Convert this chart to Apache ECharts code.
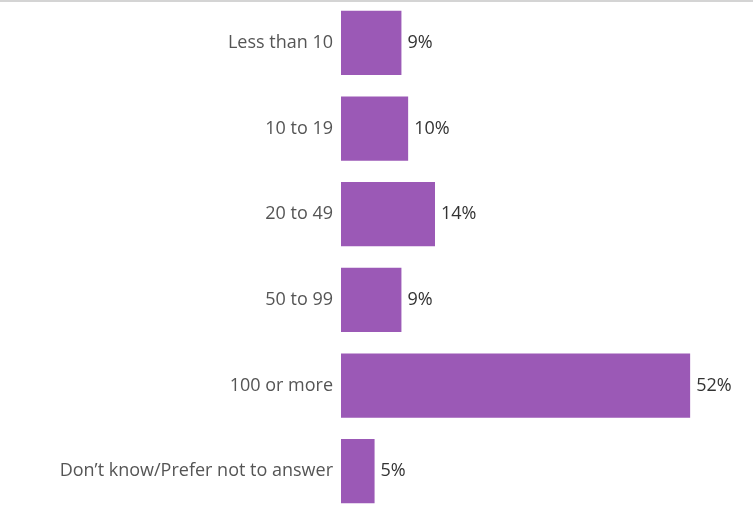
<!DOCTYPE html>
<html>
<head>
<meta charset="utf-8">
<script src="https://cdn.jsdelivr.net/npm/echarts@6/dist/echarts.min.js"></script>
<style>
  html, body { margin: 0; padding: 0; background: #fff; overflow: hidden; width: 753px; height: 507px; }
  #topline { position: absolute; left: 0; top: 0; width: 753px; height: 2px; background: #d4d4d4; z-index: 2; }
  #chart { width: 753px; height: 520px; }
</style>
</head>
<body>
<div id="topline"></div>
<div id="chart"></div>
<script>
// Share of responses by size band
const categories = [
  'Less than 10',
  '10 to 19',
  '20 to 49',
  '50 to 99',
  '100 or more',
  'Don\u2019t know/Prefer not to answer'
];
const shares = [9, 10, 14, 9, 52, 5];

const chart = echarts.init(document.getElementById('chart'), null, { renderer: 'canvas' });
chart.setOption({
  animation: false,
  grid: { left: 341, top: 0, width: 376, height: 514, containLabel: false },
  xAxis: {
    type: 'value', min: 0, max: 56,
    show: false
  },
  yAxis: {
    type: 'category',
    data: categories,
    inverse: true,
    axisLine: { show: false },
    axisTick: { show: false },
    axisLabel: {
      margin: 8,
      color: '#555555',
      fontFamily: 'Open Sans',
      fontSize: 18,
      padding: [4, 0, 0, 0]
    }
  },
  series: [{
    type: 'bar',
    data: shares,
    barCategoryGap: '25%',
    itemStyle: { color: '#9b59b6' },
    label: {
      show: true,
      position: 'right',
      distance: 6,
      color: '#333333',
      fontFamily: 'Open Sans',
      fontSize: 18,
      padding: [2, 0, 0, 0],
      formatter: p => p.value + '%'
    }
  }]
});
</script>
</body>
</html>
